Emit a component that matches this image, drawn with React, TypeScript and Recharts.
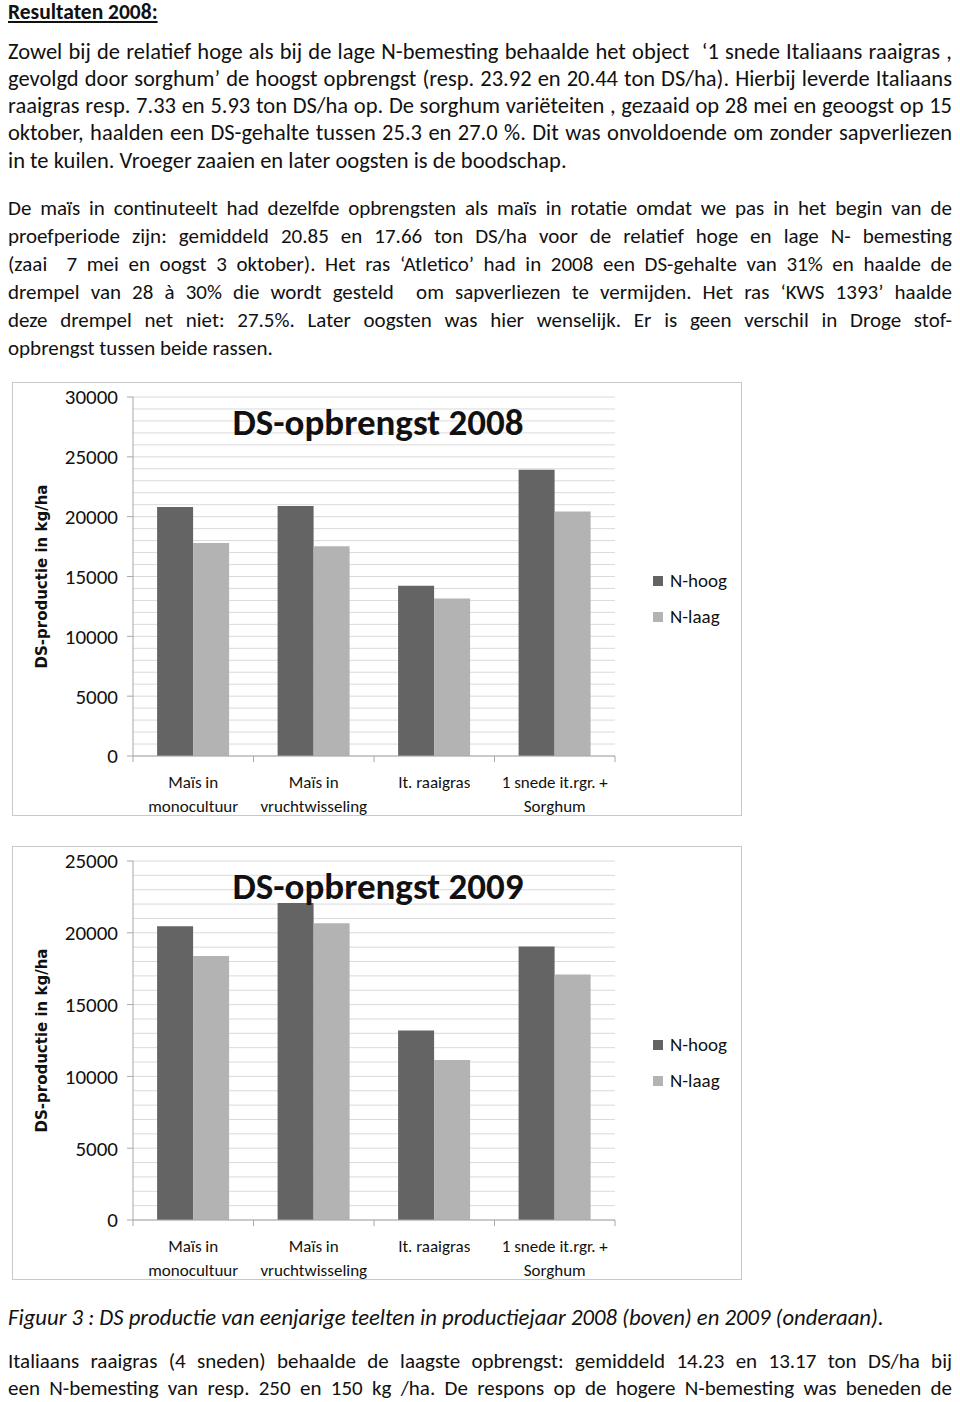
import React from 'react'
import { BarChart, Bar, XAxis, YAxis, CartesianGrid } from 'recharts'

const categories = ['Maïs in\nmonocultuur', 'Maïs in\nvruchtwisseling', 'It. raaigras', '1 snede it.rgr. +\nSorghum']
const hoog2008 = [20800, 20900, 14230, 23920]
const laag2008 = [17800, 17520, 13170, 20440]
const hoog2009 = [20450, 22080, 13200, 19040]
const laag2009 = [18390, 20660, 11150, 17090]
const ticks2008 = [0, 5000, 10000, 15000, 20000, 25000, 30000]
const ticks2009 = [0, 5000, 10000, 15000, 20000, 25000]
const seriesNames = ['N-hoog', 'N-laag']

const para1 = [
  'Zowel bij de relatief hoge als bij de lage N-bemesting behaalde het object  ‘1 snede Italiaans raaigras ,',
  'gevolgd door sorghum’ de hoogst opbrengst (resp. 23.92 en 20.44 ton DS/ha). Hierbij leverde Italiaans',
  'raaigras resp. 7.33 en 5.93 ton DS/ha op. De sorghum variëteiten , gezaaid op 28 mei en geoogst op 15',
  'oktober, haalden een DS-gehalte tussen 25.3 en 27.0 %. Dit was onvoldoende om zonder sapverliezen',
  'in te kuilen. Vroeger zaaien en later oogsten is de boodschap.',
]
const para2 = [
  'De maïs in continuteelt had dezelfde opbrengsten als maïs in rotatie omdat we pas in het begin van de',
  'proefperiode zijn: gemiddeld 20.85 en 17.66 ton DS/ha voor de relatief hoge en lage N- bemesting',
  '(zaai  7 mei en oogst 3 oktober). Het ras ‘Atletico’ had in 2008 een DS-gehalte van 31% en haalde de',
  'drempel van 28 à 30% die wordt gesteld  om sapverliezen te vermijden. Het ras ‘KWS 1393’ haalde',
  'deze drempel net niet: 27.5%. Later oogsten was hier wenselijk. Er is geen verschil in Droge stof-',
  'opbrengst tussen beide rassen.',
]
const caption = 'Figuur 3 : DS productie van eenjarige teelten in productiejaar 2008 (boven) en 2009 (onderaan).'
const para3 = [
  'Italiaans raaigras (4 sneden) behaalde de laagste opbrengst: gemiddeld 14.23 en 13.17 ton DS/ha bij',
  'een N-bemesting van resp. 250 en 150 kg /ha. De respons op de hogere N-bemesting was beneden de',
]

const FONT = "Carlito, Lato, sans-serif"
const DARK = '#646464'
const LIGHT = '#b3b3b3'
const AXIS = '#a8a8a8'

function TextLine({ y, text, justify = true, italic = false, size = 19 }: any) {
  return (
    <div
      style={{
        position: 'absolute', left: 8, top: y - (size + 4) / 2, width: 944,
        fontSize: size, lineHeight: `${size + 4}px`, fontStyle: italic ? 'italic' : 'normal',
        textAlign: justify ? 'justify' : 'left',
        textAlignLast: justify ? 'justify' : 'left', whiteSpace: 'pre',
      }}
    >
      {text}
    </div>
  )
}

const PLOT_W = 482
const BAND = PLOT_W / categories.length

function CatTick({ x, y, payload, index }: any) {
  const lines = String(payload.value).split('\n')
  return (
    <g>
      <line x1={x - BAND / 2} x2={x - BAND / 2} y1={y} y2={y + 6} stroke={AXIS} />
      {index === categories.length - 1 && (
        <line x1={x + BAND / 2} x2={x + BAND / 2} y1={y} y2={y + 6} stroke={AXIS} />
      )}
      {lines.map((l, i) => (
        <text
          key={i} x={x} y={y + 26 + i * 24} textAnchor="middle" dominantBaseline="central"
          fontSize={17} fill="#111" fontFamily={FONT}
        >
          {l}
        </text>
      ))}
    </g>
  )
}

function ChartBox({ top, title, hoog, laag, ticks }: any) {
  const data = categories.map((c, i) => ({ name: c, hoog: hoog[i], laag: laag[i] }))
  const max = ticks[ticks.length - 1]
  const minor = Array.from({ length: max / 1000 + 1 }, (_, i) => i * 1000)
  return (
    <div
      style={{
        position: 'absolute', left: 12, top, width: 730, height: 434,
        border: '1px solid #c8c8c8', boxSizing: 'border-box', background: '#fff',
      }}
    >
      <BarChart
        width={728}
        height={432}
        data={data}
        margin={{ top: 14, right: 126, left: 0, bottom: 0 }}
        barCategoryGap="20%"
        barGap={0}
      >
        <CartesianGrid vertical={false} stroke="#dadada" horizontalValues={minor} />
        <XAxis
          dataKey="name"
          height={59}
          tick={<CatTick />}
          tickLine={false}
          tickSize={0}
          tickMargin={0}
          axisLine={{ stroke: AXIS }}
          interval={0}
        />
        <YAxis
          width={120}
          domain={[0, max]}
          ticks={ticks}
          interval={0}
          tickSize={6}
          tickMargin={9}
          tickLine={{ stroke: AXIS }}
          axisLine={{ stroke: AXIS }}
          tick={{ fontSize: 21, fill: '#111', fontFamily: FONT }}
          label={{
            content: (p: any) => {
              const vb = p.viewBox
              const cy = vb.y + vb.height / 2
              return (
                <text
                  x={29} y={cy} transform={`rotate(-90 29 ${cy})`} textAnchor="middle"
                  dominantBaseline="central" fontSize={15} fontWeight={700}
                  fontFamily="'DejaVu Sans', Verdana, sans-serif" fill="#111"
                >
                  DS-productie in kg/ha
                </text>
              )
            },
          }}
        />
        <Bar dataKey="hoog" name={seriesNames[0]} fill={DARK} isAnimationActive={false} />
        <Bar dataKey="laag" name={seriesNames[1]} fill={LIGHT} isAnimationActive={false} />
      </BarChart>
      <div
        style={{
          position: 'absolute', left: 0, top: 17, width: 730, textAlign: 'center',
          fontFamily: FONT, fontWeight: 700, fontSize: 37, lineHeight: '46px',
        }}
      >
        {title}
      </div>
      {seriesNames.map((s, i) => (
        <div
          key={s}
          style={{
            position: 'absolute', left: 640, top: 186 + i * 36, display: 'flex',
            alignItems: 'center', fontFamily: FONT, fontSize: 19, color: '#111',
          }}
        >
          <span style={{ width: 10, height: 10, background: i === 0 ? DARK : LIGHT, marginRight: 7 }} />
          {s}
        </div>
      ))}
    </div>
  )
}

export default function App() {
  return (
    <div style={{ position: 'absolute', left: 0, top: 0, width: 960, height: 1402, fontFamily: FONT, color: '#111', background: '#fff' }}>
      <div style={{ position: 'absolute', left: 8, top: -1, fontSize: 21.5, fontWeight: 700, textDecoration: 'underline' }}>
        Resultaten 2008:
      </div>
      {para1.map((t, i) => (
        <TextLine key={i} y={52 + i * 27.2} text={t} size={22.5} justify={i < para1.length - 1} />
      ))}
      {para2.map((t, i) => (
        <TextLine key={i} y={208 + i * 28} text={t} size={21} justify={i < para2.length - 1} />
      ))}
      <ChartBox top={382} title="DS-opbrengst 2008" hoog={hoog2008} laag={laag2008} ticks={ticks2008} />
      <ChartBox top={846} title="DS-opbrengst 2009" hoog={hoog2009} laag={laag2009} ticks={ticks2009} />
      <TextLine y={1317} text={caption} size={22.7} justify={false} italic />
      {para3.map((t, i) => (
        <TextLine key={i} y={1361 + i * 27} text={t} size={21} />
      ))}
    </div>
  )
}
